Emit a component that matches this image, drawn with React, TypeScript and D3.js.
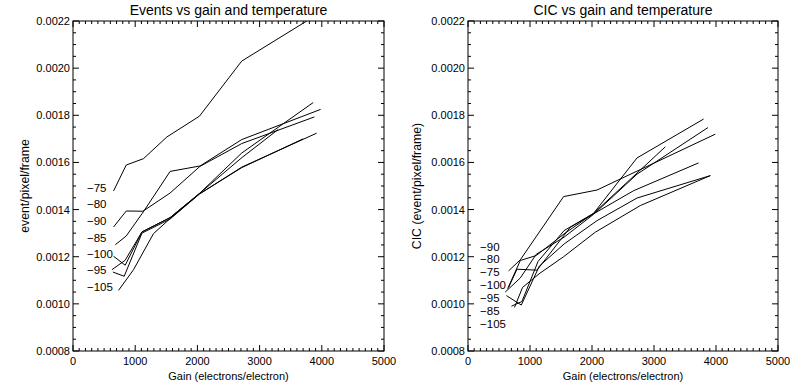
import React, { useEffect, useRef } from "react";
import * as d3 from "d3";

// axis ticks
const gainTicks = [0, 1000, 2000, 3000, 4000, 5000];
const rateTicks = [0.0008, 0.001, 0.0012, 0.0014, 0.0016, 0.0018, 0.002, 0.0022];

// temperature labels, in the order they are printed, and their heights
const eventLabels = ["-75", "-80", "-90", "-85", "-100", "-95", "-105"];
const eventLabelY = [0.001491, 0.001422, 0.001353, 0.001281, 0.001213, 0.001145, 0.001071];
const cicLabels = ["-90", "-80", "-75", "-100", "-95", "-85", "-105"];
const cicLabelY = [0.001243, 0.001189, 0.001134, 0.001078, 0.001024, 0.000969, 0.000914];

// events per pixel per frame, [gain, value]
const events75 = [[652, 0.001479], [856, 0.001589], [1133, 0.001616], [1509, 0.001708], [2032, 0.001796], [2713, 0.00203], [3880, 0.00222]];
const events80 = [[652, 0.001326], [856, 0.001394], [1124, 0.001393], [1560, 0.00147], [2040, 0.001583], [2713, 0.00168], [3880, 0.001793]];
const events90 = [[681, 0.001251], [856, 0.001288], [1130, 0.00139], [1562, 0.001562], [2043, 0.001585], [2713, 0.001697], [3981, 0.001825]];
const events85 = [[652, 0.001202], [839, 0.001164], [1108, 0.001305], [1562, 0.001366], [2032, 0.001468], [2713, 0.00164], [3862, 0.001854]];
const events100 = [[626, 0.001145], [839, 0.001185], [1108, 0.001305], [1562, 0.001366], [2032, 0.001468], [2713, 0.00162], [3300, 0.00174]];
const events95 = [[642, 0.001135], [823, 0.001117], [1108, 0.0013], [1562, 0.00136], [2032, 0.001466], [2713, 0.00158], [3917, 0.001724]];
const events105 = [[732, 0.001057], [973, 0.001145], [1294, 0.001298], [1562, 0.001362], [2032, 0.001466], [2713, 0.001578], [3700, 0.0017]];

// clock induced charge, [gain, value]
const cicA = [[655, 0.00114], [844, 0.001187], [1542, 0.001455], [2081, 0.001483], [3989, 0.00172]];
const cicB = [[639, 0.001064], [844, 0.001184], [1100, 0.001205], [1550, 0.001297], [2026, 0.001384], [2726, 0.001619], [3800, 0.001784]];
const cicC = [[700, 0.00099], [870, 0.00101], [1130, 0.00118], [1550, 0.001311], [2026, 0.001384], [3182, 0.001666]];
const cicD = [[600, 0.00105], [844, 0.00111], [1100, 0.00121], [1550, 0.001283], [2026, 0.00138], [2726, 0.00155], [3871, 0.001748]];
const cicE = [[655, 0.00107], [790, 0.001147], [1113, 0.001143], [1650, 0.001325], [2671, 0.00148], [3719, 0.001598]];
const cicF = [[620, 0.001035], [860, 0.000995], [1150, 0.00116], [1550, 0.001254], [2081, 0.001353], [2726, 0.001449], [3908, 0.001544]];
const cicG = [[750, 0.000985], [880, 0.00107], [1160, 0.00113], [1542, 0.0012], [2053, 0.001304], [2779, 0.001417], [3908, 0.001544]];

const FONT = "'Liberation Sans', Arial, sans-serif";

function drawPanel(svg, opts) {
  const { id, left, right, top, bottom, title, yTitle, yTitleX, series, labels, labelY, labelX } = opts;
  const x = d3.scaleLinear().domain([0, 5000]).range([left, right]);
  const y = d3.scaleLinear().domain([0.0008, 0.0022]).range([bottom, top]);
  const g = svg.append("g");

  g.append("clipPath").attr("id", id).append("rect")
    .attr("x", left).attr("y", top).attr("width", right - left).attr("height", bottom - top);

  const line = d3.line().x(d => x(d[0])).y(d => y(d[1]));
  g.append("g").attr("clip-path", `url(#${id})`)
    .selectAll("path").data(series).enter().append("path")
    .attr("d", line).attr("fill", "none").attr("stroke", "#000").attr("stroke-width", 1);

  // box
  g.append("rect").attr("x", left).attr("y", top).attr("width", right - left).attr("height", bottom - top)
    .attr("fill", "none").attr("stroke", "#000").attr("stroke-width", 1);

  // minor ticks every 100 in gain and every 0.00005 in rate, on all four sides
  const xMinor = d3.range(0, 5001, 100);
  const yMinor = d3.range(0.0008, 0.002201, 0.00005);
  xMinor.forEach(v => {
    const len = v % 1000 === 0 ? 6 : 3;
    g.append("line").attr("x1", x(v)).attr("x2", x(v)).attr("y1", bottom).attr("y2", bottom - len).attr("stroke", "#000");
    g.append("line").attr("x1", x(v)).attr("x2", x(v)).attr("y1", top).attr("y2", top + len).attr("stroke", "#000");
  });
  yMinor.forEach((v, i) => {
    const len = i % 4 === 0 ? 6 : 3;
    g.append("line").attr("x1", left).attr("x2", left + len).attr("y1", y(v)).attr("y2", y(v)).attr("stroke", "#000");
    g.append("line").attr("x1", right).attr("x2", right - len).attr("y1", y(v)).attr("y2", y(v)).attr("stroke", "#000");
  });

  g.selectAll("text.xt").data(gainTicks).enter().append("text")
    .attr("x", d => x(d)).attr("y", bottom + 14).attr("text-anchor", "middle")
    .attr("font-size", 11).attr("font-family", FONT).text(d => d);
  g.selectAll("text.yt").data(rateTicks).enter().append("text")
    .attr("x", left - 3).attr("y", d => y(d) + 4).attr("text-anchor", "end")
    .attr("font-size", 11).attr("font-family", FONT).text(d => d.toFixed(4));

  g.append("text").attr("x", (left + right) / 2).attr("y", 15).attr("text-anchor", "middle")
    .attr("font-size", 14).attr("font-family", FONT).text(title);
  g.append("text").attr("x", (left + right) / 2).attr("y", bottom + 29).attr("text-anchor", "middle")
    .attr("font-size", 11).attr("font-family", FONT).text("Gain (electrons/electron)");
  g.append("text").attr("transform", `translate(${yTitleX},${(top + bottom) / 2}) rotate(-90)`)
    .attr("text-anchor", "middle").attr("font-size", 12.3).attr("font-family", FONT).text(yTitle);

  g.selectAll("text.lab").data(labels).enter().append("text")
    .attr("x", x(labelX)).attr("y", (d, i) => y(labelY[i]) + 4)
    .attr("font-size", 11.5).attr("font-family", FONT).text(d => d.replace("-", "\u2212"));
}

export default function App() {
  const ref = useRef(null);
  useEffect(() => {
    const svg = d3.select(ref.current);
    svg.selectAll("*").remove();
    drawPanel(svg, {
      id: "clipL", left: 73, right: 384, top: 21, bottom: 351,
      title: "Events vs gain and temperature", yTitle: "event/pixel/frame", yTitleX: 29,
      series: [events75, events80, events90, events85, events100, events95, events105],
      labels: eventLabels, labelY: eventLabelY, labelX: 225
    });
    drawPanel(svg, {
      id: "clipR", left: 468, right: 778, top: 21, bottom: 351,
      title: "CIC vs gain and temperature", yTitle: "CIC (event/pixel/frame)", yTitleX: 421,
      series: [cicA, cicB, cicC, cicD, cicE, cicF, cicG],
      labels: cicLabels, labelY: cicLabelY, labelX: 195
    });
  }, []);
  return (
    <svg ref={ref} width={799} height={390}
      style={{ position: "absolute", left: 0, top: 0, background: "#fff" }} />
  );
}
